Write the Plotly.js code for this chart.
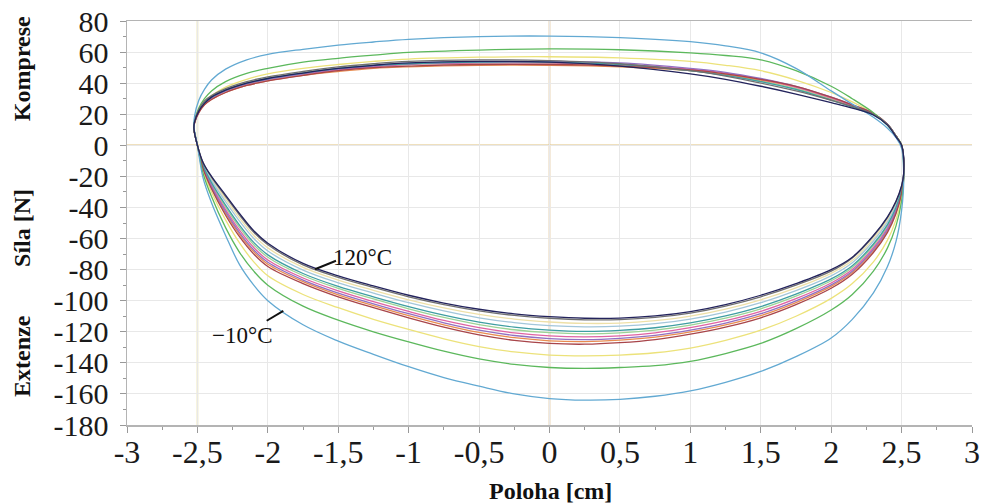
<!DOCTYPE html>
<html>
<head>
<meta charset="utf-8">
<script src="https://cdn.plot.ly/plotly-3.0.1.min.js"></script>
<style>html,body{margin:0;padding:0;background:#fff;}#chart{width:984px;height:504px;}</style>
</head>
<body>
<div id="chart"></div>
<script>
// Position grid of the compression (upper) and extension (lower) branches [cm]
const upperX = [-2.50, -2.525, -2.52, -2.49, -2.45, -2.40, -2.30, -2.15, -2.0, -1.75, -1.5, -1.25, -1.0, -0.5, 0, 0.5, 1.0, 1.25, 1.5, 1.75, 2.0, 2.15, 2.3, 2.4, 2.46, 2.50];
const lowerX = [2.515, 2.50, 2.46, 2.40, 2.30, 2.15, 2.0, 1.75, 1.5, 1.25, 1.0, 0.75, 0.5, 0.25, 0, -0.25, -0.5, -0.75, -1.0, -1.25, -1.5, -1.75, -2.0, -2.1, -2.2, -2.3, -2.4, -2.46, -2.50];

// Force [N] per curve (upper = compression, lower = extension)
const blueUp   = [0, 12, 19, 29, 36, 42, 49, 55, 58.5, 61.8, 64.5, 66.5, 68.2, 70, 70.3, 69.3, 66.7, 64, 59.5, 49.5, 35, 26.5, 18, 11, 5, -2];
const blueLow  = [-22, -42, -62, -78, -95, -112, -124, -136, -145.5, -152.5, -158, -161.5, -163.5, -164, -163, -160, -155, -149.5, -142.5, -134.5, -126, -115.5, -100, -90, -77, -58, -37, -21, 0];
const greenUp  = [0, 11, 16, 24, 30, 35, 41, 46.3, 49.5, 53.5, 56, 58, 59.8, 61.3, 62, 61.5, 59.5, 57.8, 55, 48, 38, 30, 21, 13, 6, 0];
const greenLow = [-21, -36, -52, -66, -81, -96, -106, -118, -127.5, -134, -139, -141.8, -143, -143.6, -143, -141, -137.5, -132.5, -126.5, -120, -112.5, -103.5, -90, -81, -69, -53, -33, -18, 0];
const yellowUp  = [0, 11, 15, 23, 28, 32, 37.5, 42.5, 46, 49.5, 52, 54, 55.5, 56.7, 57, 56.3, 54, 51.5, 48, 42, 34, 28, 20.5, 13, 6, 0];
const yellowLow = [-21, -34, -48, -61, -75, -89, -98.5, -110, -119, -125.5, -130.5, -133.5, -135, -135.5, -135, -133, -129.5, -124.5, -118.5, -112, -104.5, -96, -84, -75, -63, -48, -30, -16, 0];
const darkRedUp  = [0, 10.5, 14.5, 21, 26, 29.5, 34, 38.5, 41.5, 45, 48, 50, 51, 52, 52, 51, 48.5, 46, 42.5, 38, 31, 26, 20.5, 13.5, 6, 0];
const darkRedLow = [-20, -31, -44, -56, -69, -83, -92, -102.5, -111, -117, -121.5, -125, -127, -128, -127.5, -125.5, -122, -117, -111, -104.5, -97.5, -89, -78, -70, -59, -45, -28, -15, 0];
const orangeUp  = [0, 10.5, 14.5, 21, 26, 29.5, 34, 38.5, 41.5, 45, 47.5, 49.5, 50.5, 51.5, 51.5, 50.5, 48, 45.5, 42, 37.5, 30.5, 25.5, 20.5, 13.5, 6, 0];
const orangeLow = [-19.8, -30.5, -43.2, -55, -67.9, -81.9, -90.8, -101.2, -109.6, -115.6, -120.1, -123.5, -125.4, -126.3, -125.8, -123.8, -120.4, -115.5, -109.6, -103.1, -96.2, -87.7, -76.5, -68.5, -57.5, -43.7, -27.2, -14.6, 0];
const purpleUp  = [0, 11, 15, 21.5, 27, 30.5, 35, 39.5, 42.5, 46, 49, 51, 52.5, 53.5, 54, 53, 49.5, 47, 43, 38, 31, 26, 20.5, 13.5, 6, 0];
const purpleLow = [-19.6, -30.1, -42.6, -54.2, -67, -81, -89.8, -100.1, -108.4, -114.4, -118.9, -122.3, -124.2, -125, -124.4, -122.4, -119, -114.2, -108.4, -102, -95.1, -86.7, -75.3, -67.3, -56.3, -42.7, -26.6, -14.3, 0];
const magentaUp  = [0, 11, 15, 21.5, 27, 30.5, 35, 39.5, 42.5, 46, 48.5, 50.5, 52, 53, 53, 52, 49, 46.5, 42.5, 37.5, 30.5, 25.5, 20.5, 13.5, 6, 0];
const magentaLow = [-19.4, -29.6, -41.8, -53.2, -65.9, -79.9, -88.6, -98.7, -106.9, -112.9, -117.4, -120.7, -122.6, -123.3, -122.7, -120.7, -117.4, -112.7, -106.9, -100.6, -93.7, -85.4, -73.8, -65.8, -54.8, -41.4, -25.8, -13.9, 0];
const lightGreenUp  = [0, 11, 15, 22, 27, 30.5, 35, 39.5, 42.5, 46, 48.5, 50.5, 52, 53, 53, 51.5, 48, 45.5, 41.5, 36.5, 29.5, 25, 20, 13.5, 6, 0];
const lightGreenLow = [-19.2, -29, -40.8, -52, -64.6, -78.6, -87.2, -97.1, -105.2, -111.2, -115.7, -118.9, -120.7, -121.3, -120.6, -118.7, -115.4, -110.8, -105.2, -98.9, -92.1, -83.8, -72, -64, -53, -39.8, -24.8, -13.4, 0];
const tealUp  = [0, 11, 15, 22, 27.5, 31, 35.5, 40, 43, 46.5, 49.5, 51.5, 52.5, 53.5, 53.5, 52, 48, 45, 41, 36, 29, 24.5, 19.5, 13, 5.5, 0];
const tealLow = [-19, -28.5, -40, -51, -63.5, -77.5, -86, -95.8, -103.8, -109.8, -114.3, -117.4, -119.1, -119.7, -118.9, -117, -113.8, -109.3, -103.8, -97.5, -90.8, -82.5, -70.5, -62.5, -51.5, -38.5, -24, -13, 0];
const steelUp  = [0, 11, 15, 22, 27.5, 31, 35.5, 40, 43, 46.5, 49, 51, 52.5, 53, 53, 51.5, 48, 45, 41, 36, 29.5, 25, 20, 13.5, 6, 0];
const steelLow = [-18.7, -27.7, -38.6, -49.3, -61.6, -75.6, -84, -93.5, -101.3, -107.3, -111.8, -114.8, -116.4, -116.8, -116, -114.1, -111, -106.6, -101.3, -95.1, -88.5, -80.3, -68, -60, -49, -36.3, -22.6, -12.3, 0];
const beigeUp  = [0, 11, 15, 22.5, 28, 31.5, 36, 40.5, 43.5, 47, 49.5, 51.5, 52.5, 53.5, 53.5, 52, 48.5, 45.5, 41.5, 36.5, 30, 25.5, 20, 13.5, 6, 0];
const beigeLow = [-18.4, -27, -37.6, -48, -60.2, -74.2, -82.4, -91.7, -99.4, -105.4, -109.9, -112.8, -114.4, -114.6, -113.7, -111.9, -108.8, -104.6, -99.4, -93.3, -86.7, -78.6, -66, -58, -47, -34.6, -21.6, -11.8, 0];
const grayUp  = [0, 11, 15.5, 23, 28.5, 32, 36.5, 41, 44, 47.5, 50.5, 52.5, 54, 55, 54.5, 52.5, 48, 44.5, 40, 35, 29, 25, 20, 13.5, 6, 0];
const grayLow = [-18, -26.5, -36.5, -46.5, -58.5, -72.5, -81, -90, -97.5, -103.5, -108, -110.8, -112.2, -112.3, -111.3, -109.5, -106.5, -102.5, -97.5, -91.5, -85, -77, -64, -56, -45, -33, -20.5, -11, 0];
const navyUp  = [0, 11, 15, 22, 27, 31, 35.5, 40, 43, 46.5, 49.5, 51.5, 53, 54, 53.5, 51, 46, 42.5, 38, 33, 27.5, 24, 19.5, 13, 5.5, 0];
const navyLow = [-18, -26, -36, -46, -58, -72, -80, -89, -96.5, -102.5, -107, -109.8, -111.2, -111.3, -110.3, -108.5, -105.5, -101.5, -96.5, -90.5, -84, -76, -63, -55, -44, -32, -20, -11, 0];

const xTickVals = [-3, -2.5, -2, -1.5, -1, -0.5, 0, 0.5, 1, 1.5, 2, 2.5, 3];
const xTickText = ['-3', '-2,5', '-2', '-1,5', '-1', '-0,5', '0', '0,5', '1', '1,5', '2', '2,5', '3'];
const yTickVals = [-180, -160, -140, -120, -100, -80, -60, -40, -20, 0, 20, 40, 60, 80];
const yTickText = ['-180', '-160', '-140', '-120', '-100', '-80', '-60', '-40', '-20', '0', '20', '40', '60', '80'];

const curves = [
  {name: 'beige', up: beigeUp, low: beigeLow, color: '#eee0a8'},
  {name: 'steel', up: steelUp, low: steelLow, color: '#a3c6da'},
  {name: 'lightgreen', up: lightGreenUp, low: lightGreenLow, color: '#9cd396'},
  {name: 'yellow', up: yellowUp, low: yellowLow, color: '#ece27a'},
  {name: 'orange', up: orangeUp, low: orangeLow, color: '#e88c50'},
  {name: 'magenta', up: magentaUp, low: magentaLow, color: '#e063a2'},
  {name: 'purple', up: purpleUp, low: purpleLow, color: '#9270c2'},
  {name: 'teal', up: tealUp, low: tealLow, color: '#3f9ea2'},
  {name: 'darkred', up: darkRedUp, low: darkRedLow, color: '#a8454a'},
  {name: 'green', up: greenUp, low: greenLow, color: '#5cb85c'},
  {name: 'blue', up: blueUp, low: blueLow, color: '#62a9d2'},
  {name: 'gray', up: grayUp, low: grayLow, color: '#707070'},
  {name: 'navy', up: navyUp, low: navyLow, color: '#23235c'}
];

const loopX = upperX.concat(lowerX);
const traces = curves.map(c => ({
  type: 'scatter', mode: 'lines', name: c.name,
  x: loopX, y: c.up.concat(c.low),
  line: {color: c.color, width: 1.3, shape: 'spline', smoothing: 1},
  hoverinfo: 'skip'
}));

const serif = 'Liberation Serif, Times New Roman, serif';

const layout = {
  width: 984, height: 504,
  margin: {l: 127, r: 12, t: 21, b: 79},
  paper_bgcolor: '#ffffff', plot_bgcolor: '#ffffff',
  showlegend: false,
  font: {family: serif, color: '#111'},
  xaxis: {
    range: [-3, 3], tickmode: 'array', tickvals: xTickVals, ticktext: xTickText,
    tickfont: {family: serif, size: 32, color: '#1a1a1a'},
    ticks: 'outside', ticklen: 6, tickcolor: '#999', tickwidth: 1,
    ticklabelstandoff: -8,
    minor: {tickmode: 'linear', tick0: -3, dtick: 0.25, ticks: 'outside', ticklen: 3, tickcolor: '#999', showgrid: false},
    showgrid: true, gridcolor: '#e8e8e8', gridwidth: 1,
    zeroline: false,
    showline: true, linecolor: '#b4b4b4', linewidth: 1.5, mirror: true,
    fixedrange: true
  },
  yaxis: {
    range: [-180, 80], tickmode: 'array', tickvals: yTickVals, ticktext: yTickText,
    tickfont: {family: serif, size: 30, color: '#1a1a1a'},
    ticks: 'outside', ticklen: 6, tickcolor: '#999', tickwidth: 1,
    ticklabelstandoff: 5,
    minor: {tickmode: 'linear', tick0: -180, dtick: 10, ticks: 'outside', ticklen: 3, tickcolor: '#999', showgrid: false},
    showgrid: true, gridcolor: '#e8e8e8', gridwidth: 1,
    zeroline: false,
    showline: true, linecolor: '#b4b4b4', linewidth: 1.5,
    fixedrange: true
  },
  shapes: [
    {type: 'line', xref: 'x', yref: 'paper', x0: -2.5, x1: -2.5, y0: 0, y1: 1, line: {color: '#f1edc8', width: 2}, layer: 'between'},
    {type: 'line', xref: 'x', yref: 'paper', x0: 0, x1: 0, y0: 0, y1: 1, line: {color: '#d2ad70', width: 1.5}, layer: 'between'},
    {type: 'line', xref: 'paper', yref: 'y', x0: 0, x1: 1, y0: 0, y1: 0, line: {color: '#dfc27e', width: 1.5}, layer: 'between'},
    {type: 'line', xref: 'x', yref: 'y', x0: -1.665, y0: -79.8, x1: -1.516, y1: -74.3, line: {color: '#111', width: 2}},
    {type: 'line', xref: 'x', yref: 'y', x0: -2.008, y0: -112.9, x1: -1.890, y1: -106.6, line: {color: '#111', width: 2}}
  ],
  annotations: [
    {xref: 'x', yref: 'y', x: -1.331, y: -71.9, xanchor: 'center', yanchor: 'middle', text: '120°C', showarrow: false, font: {family: serif, size: 23, color: '#111'}},
    {xref: 'x', yref: 'y', x: -2.183, y: -122.7, xanchor: 'center', yanchor: 'middle', text: '\u221210°C', showarrow: false, font: {family: serif, size: 23, color: '#111'}},
    {xref: 'paper', yref: 'paper', x: 0.5006, y: -0.163, xanchor: 'center', yanchor: 'middle', text: '<b>Poloha [cm]</b>', showarrow: false, font: {family: serif, size: 24, color: '#111'}},
    {xref: 'paper', yref: 'paper', x: -0.1242, y: 0.881, xanchor: 'center', yanchor: 'middle', text: '<b>Komprese</b>', textangle: -90, showarrow: false, font: {family: serif, size: 24, color: '#111'}},
    {xref: 'paper', yref: 'paper', x: -0.1242, y: 0.488, xanchor: 'center', yanchor: 'middle', text: '<b>Síla [N]</b>', textangle: -90, showarrow: false, font: {family: serif, size: 24, color: '#111'}},
    {xref: 'paper', yref: 'paper', x: -0.1242, y: 0.171, xanchor: 'center', yanchor: 'middle', text: '<b>Extenze</b>', textangle: -90, showarrow: false, font: {family: serif, size: 24, color: '#111'}}
  ]
};

Plotly.newPlot('chart', traces, layout, {staticPlot: true, displayModeBar: false});
</script>
</body>
</html>
